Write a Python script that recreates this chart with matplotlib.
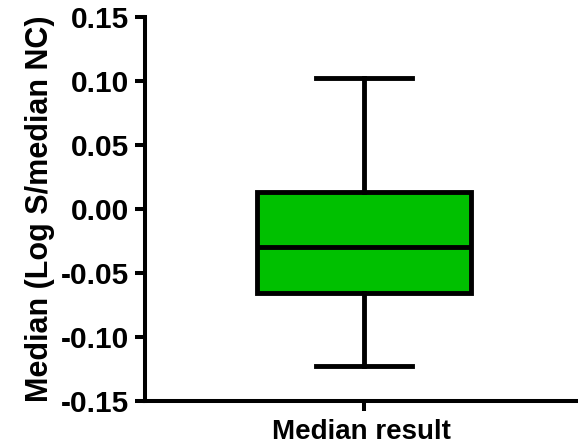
import matplotlib
matplotlib.use("Agg")
import matplotlib.pyplot as plt

plt.rcParams['font.family'] = ['Liberation Sans', 'DejaVu Sans']
plt.rcParams['font.weight'] = 'bold'

category = "Median result"
whisker_low = -0.1227
q1 = -0.0656
median = -0.0297
q3 = 0.0133
whisker_high = 0.102
yticks = [-0.15, -0.10, -0.05, 0.00, 0.05, 0.10, 0.15]

W, H = 578, 446
fig = plt.figure(figsize=(W/100, H/100), dpi=100)
ax = fig.add_axes([145/W, 1 - 401/H, (W - 145)/W, (401 - 17)/H])

stats = [dict(med=median, q1=q1, q3=q3, whislo=whisker_low, whishi=whisker_high, fliers=[], label=category)]
lw = 3.5
ax.bxp(stats, positions=[1], widths=0.977, patch_artist=True, showfliers=False,
       boxprops=dict(facecolor='#00C000', edgecolor='black', linewidth=lw),
       medianprops=dict(color='black', linewidth=lw),
       whiskerprops=dict(color='black', linewidth=lw),
       capprops=dict(color='black', linewidth=lw),
       capwidths=0.434)

ax.set_xlim(0, 433/219)
ax.set_ylim(-0.15, 0.15)
ax.set_yticks(yticks)
ax.set_yticklabels([f"{v:.2f}" for v in yticks])
ax.set_xticks([1])
ax.set_xticklabels([''])
ax.set_xlabel(category, fontsize=20, fontweight='bold', labelpad=1.5)
ax.set_ylabel("Median (Log S/median NC)", fontsize=22, fontweight='bold', labelpad=4)

for s in ['top', 'right']:
    ax.spines[s].set_visible(False)
for s in ['left', 'bottom']:
    ax.spines[s].set_linewidth(2.9)
ax.tick_params(axis='both', width=2.9, length=7.5, labelsize=21.5, pad=4)
for t in ax.get_yticklabels():
    t.set_fontweight('bold')

fig.savefig("out.png", dpi=100)
